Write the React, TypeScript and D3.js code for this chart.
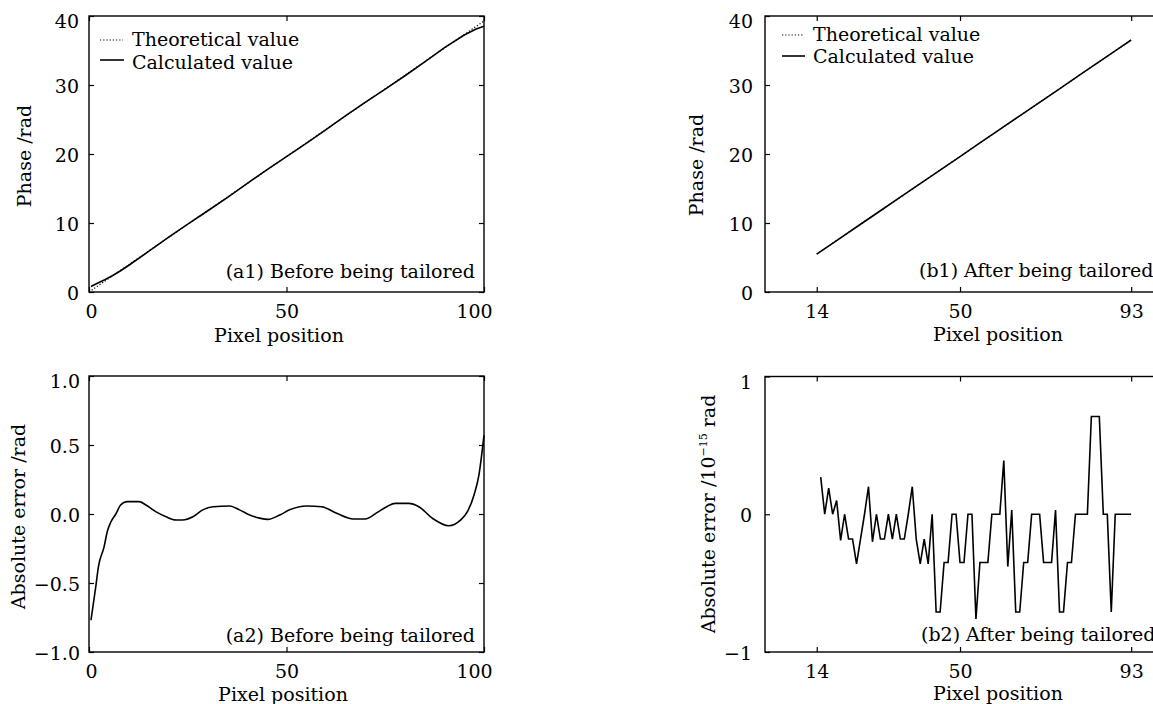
import React, { useEffect, useRef } from 'react';
import * as d3 from 'd3';

const W = 1153;
const H = 704;
const FONT = "'DejaVu Serif', 'Liberation Serif', serif";

// (a1) phase before tailoring
const theoX = [0, 100];
const theoY = [0, 39.27];
const a1X = [0.5, 2, 4, 6, 8, 10, 15, 20, 25, 30, 35, 40, 45, 50, 55, 60, 65, 70, 75, 80, 85, 90, 95, 98, 100];
const a1Calc = [0.8, 1.24, 1.77, 2.39, 3.08, 3.84, 5.84, 7.88, 9.85, 11.74, 13.69, 15.71, 17.71, 19.62, 21.54,
  23.52, 25.55, 27.52, 29.41, 31.34, 33.36, 35.42, 37.25, 38.1, 38.5];

// (a2) absolute error before tailoring
const a2X = [0.5, 1.7, 2.4, 3.8, 4.7, 5.5, 6.8, 8, 9.7, 12.7, 14.4, 16.9, 19.5, 22, 23.7, 26.3, 28.8, 31.4, 35.6,
  38.1, 40.7, 43.2, 45.3, 48.3, 50.8, 55.1, 58.9, 62.7, 66.9, 69.9, 72.9, 75.4, 77.5, 80.9, 83.5, 86.9, 91.1,
  94.1, 95.8, 97.5, 98.7, 100];
const a2Err = [-0.77, -0.53, -0.38, -0.24, -0.12, -0.06, 0.0, 0.065, 0.09, 0.09, 0.065, 0.017, -0.02, -0.043,
  -0.043, -0.02, 0.03, 0.053, 0.058, 0.03, -0.007, -0.03, -0.039, -0.007, 0.03, 0.058, 0.053, 0.005, -0.036,
  -0.036, 0.01, 0.053, 0.077, 0.077, 0.053, -0.03, -0.085, -0.043, 0.017, 0.14, 0.28, 0.57];

// (b1) phase after tailoring
const b1TheoX = [14, 93];
const b1Theo = [5.5, 36.52];
const b1X = [14, 20, 25, 30, 35, 40, 45, 50, 55, 60, 65, 70, 75, 80, 85, 90, 93];
const b1Calc = [5.5, 7.85, 9.82, 11.78, 13.74, 15.71, 17.67, 19.63, 21.6, 23.56, 25.53, 27.49, 29.45, 31.42,
  33.38, 35.34, 36.52];

// (b2) absolute error after tailoring, in 1e-15 rad
const b2X = [15, 16, 17, 18, 19, 20, 21, 22, 23, 24, 25, 26, 27, 28, 29, 30, 31, 32, 33, 34, 35, 36, 37, 38, 39,
  40, 41, 42, 43, 44, 45, 46, 47, 48, 49, 50, 51, 52, 53, 54, 55, 56, 57, 58, 59, 60, 61, 62, 63, 64, 65, 66,
  67, 68, 69, 70, 71, 72, 73, 74, 75, 76, 77, 78, 79, 80, 81, 82, 83, 84, 85, 86, 87, 88, 89, 90, 91, 92, 93];
const b2Err = [0.27, 0, 0.19, 0, 0.1, -0.19, 0, -0.18, -0.18, -0.36, -0.18, 0, 0.2, -0.2, 0, -0.18, -0.18, 0,
  -0.18, 0, -0.18, -0.18, 0, 0.2, -0.18, -0.36, -0.18, -0.36, 0, -0.71, -0.71, -0.35, -0.35, 0, 0, -0.35,
  -0.35, 0, 0, -0.76, -0.35, -0.35, -0.35, 0, 0, 0, 0.39, -0.38, 0.03, -0.71, -0.71, -0.35, -0.35, 0, 0, 0,
  -0.35, -0.35, -0.35, 0.03, -0.71, -0.71, -0.35, -0.35, 0, 0, 0, 0, 0.71, 0.71, 0.71, 0, 0, -0.71, 0, 0, 0,
  0, 0];

const aXTicks = [0, 50, 100];
const bXTicks = [14, 50, 93];
const phaseTicks = [0, 10, 20, 30, 40];
const a2YTicks = [-1, -0.5, 0, 0.5, 1];
const b2YTicks = [-1, 0, 1];

type Series = { xs: number[]; ys: number[]; dotted?: boolean; smooth?: boolean };
type Panel = {
  l: number; r: number; t: number; b: number;
  xDom: [number, number]; yDom: [number, number];
  xTicks: number[]; yTicks: number[];
  yFmt: (d: number) => string;
  yPad: number;
  series: Series[];
};

function drawPanel(svg: any, p: Panel) {
  const x = d3.scaleLinear().domain(p.xDom).range([p.l, p.r]);
  const y = d3.scaleLinear().domain(p.yDom).range([p.b, p.t]);

  const style = (g: any) => {
    g.select('.domain').remove();
    g.attr('font-family', FONT).attr('font-size', 19);
    g.selectAll('line').attr('stroke', '#000').attr('stroke-width', 1.2);
    g.selectAll('text').attr('fill', '#000');
  };

  const gB = svg.append('g').attr('transform', `translate(0,${p.b})`)
    .call(d3.axisBottom(x).tickValues(p.xTicks).tickSize(-5).tickPadding(12.5).tickFormat(d3.format('d')));
  style(gB);
  // labels at the frame edge are pulled inside, as in the original
  gB.selectAll('text').attr('dx', (d: number) => (d === p.xDom[1] ? -10 : d === p.xDom[0] ? 2 : 0));

  const gT = svg.append('g').attr('transform', `translate(0,${p.t})`)
    .call(d3.axisTop(x).tickValues(p.xTicks).tickSize(-5).tickFormat(() => ''));
  style(gT);

  const gL = svg.append('g').attr('transform', `translate(${p.l},0)`)
    .call(d3.axisLeft(y).tickValues(p.yTicks).tickSize(-5).tickPadding(p.yPad).tickFormat(p.yFmt as any));
  style(gL);
  gL.selectAll('text').attr('dy', (d: number) => (d === p.yDom[1] ? '0.62em' : '0.38em'));

  const gR = svg.append('g').attr('transform', `translate(${p.r},0)`)
    .call(d3.axisRight(y).tickValues(p.yTicks).tickSize(-5).tickFormat(() => ''));
  style(gR);

  svg.append('rect')
    .attr('x', p.l).attr('y', p.t)
    .attr('width', p.r - p.l).attr('height', p.b - p.t)
    .attr('fill', 'none').attr('stroke', '#000').attr('stroke-width', 1.4);

  p.series.forEach((s) => {
    const line = d3.line<number>()
      .x((_, i) => x(s.xs[i]))
      .y((d) => y(d))
      .curve(s.smooth ? d3.curveMonotoneX : d3.curveLinear);
    svg.append('path')
      .attr('d', line(s.ys))
      .attr('fill', 'none')
      .attr('stroke', '#000')
      .attr('stroke-width', s.dotted ? 1.2 : 1.6)
      .attr('stroke-dasharray', s.dotted ? '1.2 2' : null)
      .attr('stroke-linejoin', 'miter');
  });
}

function txt(svg: any, s: string, x: number, y: number, anchor = 'start', rot = false) {
  return svg.append('text')
    .attr('x', rot ? 0 : x).attr('y', rot ? 0 : y)
    .attr('transform', rot ? `translate(${x},${y}) rotate(-90)` : null)
    .attr('text-anchor', anchor)
    .attr('font-family', FONT).attr('font-size', 19).attr('fill', '#000')
    .text(s);
}

function legend(svg: any, x0: number, x1: number, y1: number, y2: number, tx: number, by1: number, by2: number) {
  svg.append('line').attr('x1', x0).attr('x2', x1).attr('y1', y1).attr('y2', y1)
    .attr('stroke', '#000').attr('stroke-width', 1.2).attr('stroke-dasharray', '1.2 2');
  svg.append('line').attr('x1', x0).attr('x2', x1 + 1).attr('y1', y2).attr('y2', y2)
    .attr('stroke', '#000').attr('stroke-width', 1.6);
  txt(svg, 'Theoretical value', tx, by1);
  txt(svg, 'Calculated value', tx, by2);
}

function draw(el: SVGSVGElement) {
  const svg = d3.select(el);
  svg.selectAll('*').remove();
  svg.append('rect').attr('width', W).attr('height', H).attr('fill', '#fff');

  const f1 = d3.format('.1f');
  const intF = d3.format('d');

  drawPanel(svg, {
    l: 89, r: 484, t: 16, b: 292, xDom: [0, 100], yDom: [0, 40],
    xTicks: aXTicks, yTicks: phaseTicks, yFmt: intF, yPad: 10,
    series: [
      { xs: theoX, ys: theoY, dotted: true },
      { xs: a1X, ys: a1Calc },
    ],
  });
  drawPanel(svg, {
    l: 89, r: 484, t: 376, b: 652, xDom: [0, 100], yDom: [-1, 1],
    xTicks: aXTicks, yTicks: a2YTicks, yFmt: f1, yPad: 9,
    series: [{ xs: a2X, ys: a2Err, smooth: true }],
  });
  drawPanel(svg, {
    l: 765, r: 1163, t: 16, b: 292, xDom: [1, 101], yDom: [0, 40],
    xTicks: bXTicks, yTicks: phaseTicks, yFmt: intF, yPad: 12,
    series: [
      { xs: b1TheoX, ys: b1Theo, dotted: true },
      { xs: b1X, ys: b1Calc },
    ],
  });
  drawPanel(svg, {
    l: 765, r: 1163, t: 376.5, b: 652, xDom: [1, 101], yDom: [-1, 1],
    xTicks: bXTicks, yTicks: b2YTicks, yFmt: intF, yPad: 13,
    series: [{ xs: b2X, ys: b2Err }],
  });

  legend(svg, 100, 123, 40, 60, 132, 46, 68.5);
  legend(svg, 782, 804, 35, 56, 813, 41, 62.5);

  txt(svg, '(a1) Before being tailored', 475, 278, 'end');
  txt(svg, '(a2) Before being tailored', 475, 641.5, 'end');
  txt(svg, '(b1) After being tailored', 919, 277);
  txt(svg, '(b2) After being tailored', 921, 641);

  txt(svg, 'Pixel position', 279, 341.5, 'middle');
  txt(svg, 'Pixel position', 283, 700.5, 'middle');
  txt(svg, 'Pixel position', 998, 341, 'middle');
  txt(svg, 'Pixel position', 998, 700, 'middle');

  txt(svg, 'Phase /rad', 31, 156, 'middle', true);
  txt(svg, 'Phase /rad', 703, 165, 'middle', true);
  txt(svg, 'Absolute error /rad', 25, 516.5, 'middle', true);

  const t = txt(svg, 'Absolute error /10', 715, 514, 'middle', true);
  t.append('tspan').attr('font-size', 11).attr('dy', -8).text('\u221215');
  t.append('tspan').attr('dy', 8).text(' rad');
}

export default function App() {
  const ref = useRef<SVGSVGElement>(null);
  useEffect(() => {
    if (ref.current) draw(ref.current);
  }, []);
  return (
    <svg
      ref={ref}
      width={W}
      height={H}
      style={{ position: 'absolute', left: 0, top: 0, display: 'block' }}
    />
  );
}
